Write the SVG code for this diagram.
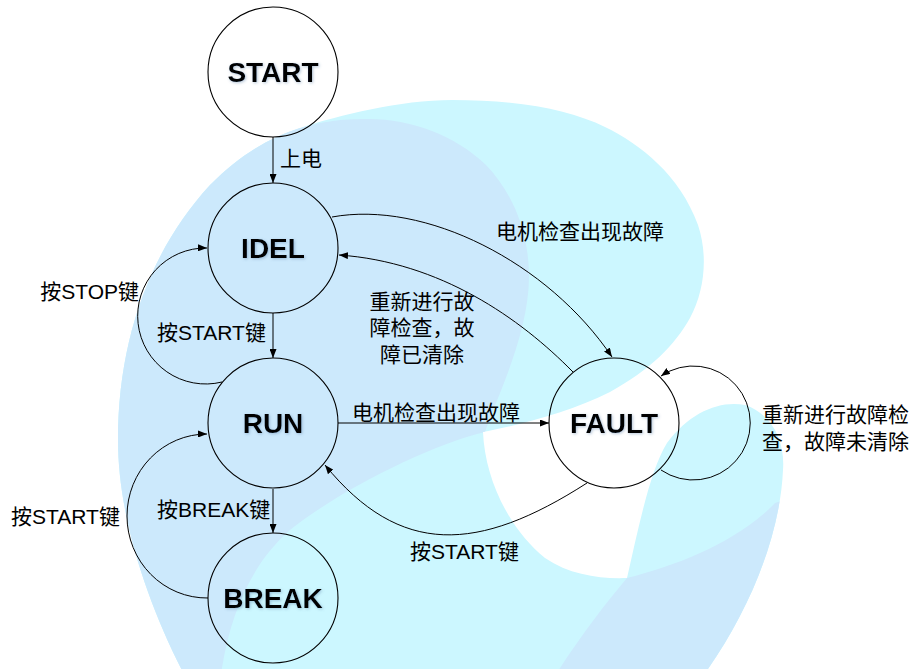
<svg xmlns="http://www.w3.org/2000/svg" width="914" height="669" viewBox="0 0 914 669">
<style>
.node{fill:none;stroke:#000;stroke-width:1.1}
.title{font-family:"Liberation Sans",Arial,sans-serif;font-weight:bold;font-size:28px;text-anchor:middle;fill:#000;filter:url(#glow)}
.edge{fill:none;stroke:#000;stroke-width:1}
.arr{marker-end:url(#ah)}
.lbl{font-family:"Liberation Sans","Noto Sans CJK SC",sans-serif;font-size:21px;fill:#000}
.blue{fill:#CCE9FC}
.cyan{fill:#CCF7FF}
</style>
<defs>
<marker id="ah" markerWidth="9" markerHeight="7" refX="9" refY="3.5" orient="auto" markerUnits="userSpaceOnUse">
<path d="M0,0 L9,3.5 L0,7 Z" fill="#000"/>
</marker>
<filter id="glow" x="-20%" y="-40%" width="140%" height="180%">
<feGaussianBlur in="SourceAlpha" stdDeviation="1.6" result="b"/>
<feOffset dx="1" dy="1" result="o"/>
<feFlood flood-color="#5a7fa8" flood-opacity="0.45"/>
<feComposite in2="o" operator="in" result="s"/>
<feMerge><feMergeNode in="s"/><feMergeNode in="SourceGraphic"/></feMerge>
</filter>
<path id="swirl" d="M187,680 C150,610 118,520 118,440 C118,340 150,250 210,185 C240,155 270,137 300,128 C340,115 400,100 452,100 C520,100 570,110 605,127 C640,144 680,175 698,225 C708,255 705,290 690,318 C675,345 650,370 610,392 C570,412 520,425 483,432 C485,480 510,530 545,558 C570,575 600,579 627,578 C638,530 650,470 667,443 C690,412 720,400 745,405 C775,415 785,445 783,470 C780,540 745,620 700,680 Z"/>
<clipPath id="swclip"><use href="#swirl"/></clipPath>
</defs>

<g id="background">
<use href="#swirl" class="cyan"/>
<g clip-path="url(#swclip)">
<path class="blue" d="M0,700 L0,0 L300,0 L300,128 C330,120 345,119 370,119 C410,119 455,135 486,165 C512,192 528,230 529,273 C530,330 500,390 485,432 C430,445 340,490 290,530 C250,565 225,620 218,700 Z"/>
<path class="blue" d="M627,578 C680,565 740,540 775,503 L900,460 L900,700 L540,700 C570,650 600,610 627,578 Z"/>
</g>
</g>

<g id="connectors">
<g id="e-start-idel">
<path class="edge arr" d="M273,137 L273,183"/>
<text class="lbl" x="280" y="166">上电</text>
</g>
<g id="e-idel-run">
<path class="edge arr" d="M273,313 L273,358"/>
<text class="lbl" x="157" y="340">按START键</text>
</g>
<g id="e-run-break">
<path class="edge arr" d="M273,489 L273,533"/>
<text class="lbl" x="157" y="517">按BREAK键</text>
</g>
<g id="e-run-fault">
<path class="edge arr" d="M338,423 L549,423"/>
<text class="lbl" x="352" y="420">电机检查出现故障</text>
</g>
<g id="e-idel-fault">
<path class="edge arr" d="M332,217 C425,200 548,262 612,357"/>
<text class="lbl" x="496" y="239">电机检查出现故障</text>
</g>
<g id="e-fault-idel">
<path class="edge arr" d="M573,372 C520,318 440,262 339,255"/>
<text class="lbl" text-anchor="middle" x="422" y="309">重新进行故</text>
<text class="lbl" text-anchor="middle" x="422" y="335">障检查，故</text>
<text class="lbl" text-anchor="middle" x="422" y="362">障已清除</text>
</g>
<g id="e-fault-run">
<path class="edge arr" d="M587,483 C478,553 400,557 325,465"/>
<text class="lbl" x="410" y="559">按START键</text>
</g>
<g id="e-fault-self">
<path class="edge arr" d="M661,470 A57,57 0 1 0 661,376"/>
<text class="lbl" x="762" y="422">重新进行故障检</text>
<text class="lbl" x="762" y="449">查，故障未清除</text>
</g>
<g id="e-run-idel">
<path class="edge arr" d="M222,382 A68,68 0 1 1 207,248"/>
<text class="lbl" text-anchor="end" x="139" y="299">按STOP键</text>
</g>
<g id="e-break-run">
<path class="edge arr" d="M208,598 A80,82 0 0 1 127,516 A80,82 0 0 1 207,434"/>
<text class="lbl" x="11" y="524">按START键</text>
</g>
</g>

<g id="START"><circle class="node" cx="273" cy="72" r="65"/><text class="title" x="273" y="82">START</text></g>
<g id="IDEL"><circle class="node" cx="273" cy="248" r="65"/><text class="title" x="273" y="258">IDEL</text></g>
<g id="RUN"><circle class="node" cx="273" cy="423" r="65"/><text class="title" x="273" y="433">RUN</text></g>
<g id="BREAK"><circle class="node" cx="273" cy="598" r="65"/><text class="title" x="273" y="608">BREAK</text></g>
<g id="FAULT"><circle class="node" cx="614" cy="423" r="65"/><text class="title" x="614" y="433">FAULT</text></g>
</svg>
